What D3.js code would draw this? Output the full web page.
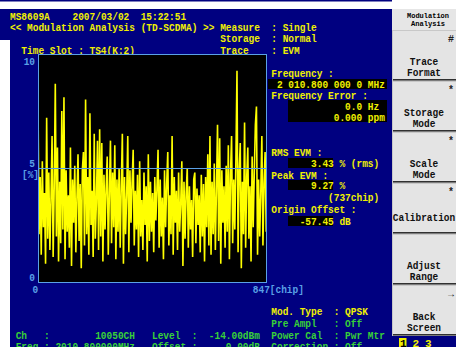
<!DOCTYPE html>
<html><head><meta charset="utf-8">
<script src="https://cdn.jsdelivr.net/npm/d3@7"></script>
<style>html,body{margin:0;padding:0;background:#fff;overflow:hidden}svg{display:block}text{white-space:pre}</style>
</head><body>
<script>
// ---- chart data ----
const chipStep = 4; // one stored EVM sample every 4 chips
const evmValues = [
7.9,2.1,4.6,1.2,5.3,2.4,3.9,0.8,7.2,1.9,
4.8,1.4,3.6,6.4,1.1,4.2,8.7,2.0,5.9,0.9,
4.4,1.7,7.5,2.3,8.1,1.0,4.9,2.2,3.8,1.5,
5.9,0.7,4.5,2.6,5.1,1.3,3.7,5.6,1.8,4.3,
0.6,4.9,5.7,1.6,8.0,2.1,4.6,1.2,7.4,2.5,
4.0,1.1,6.5,1.9,3.5,6.2,1.4,6.7,2.0,6.1,
0.9,4.7,2.3,4.1,5.5,1.2,3.9,6.2,1.7,4.8,
2.4,6.0,1.0,4.5,2.2,5.0,1.5,4.2,6.5,0.8,
4.6,2.1,3.8,6.4,1.3,4.9,2.6,4.3,5.8,1.6,
4.0,2.3,4.7,1.1,5.3,2.0,3.6,1.4,4.8,2.5,
4.2,0.9,5.6,1.8,4.4,2.2,3.9,1.3,4.6,2.7,
4.1,5.8,1.5,4.5,2.0,3.7,1.0,4.9,2.4,4.3,
5.7,1.6,3.8,2.1,6.4,1.2,4.6,2.6,4.0,1.4,
4.8,2.2,3.5,5.3,0.7,4.4,1.9,3.9,5.0,1.5,
4.2,2.3,3.6,1.1,4.5,4.8,1.7,4.1,2.5,3.8,
1.3,4.7,2.0,4.3,0.9,4.6,2.4,5.6,1.6,6.4,
1.2,4.4,2.1,5.2,1.4,4.0,6.9,1.8,6.3,0.8,
4.9,2.6,4.2,1.5,5.1,2.2,6.0,1.0,4.7,6.4,
1.7,4.5,2.3,5.4,9.27,1.3,4.8,6.1,0.6,4.4,
2.1,7.0,1.5,4.6,5.9,1.9,4.2,0.9,5.5,2.4,
4.8,6.9,7.7,1.2,4.5,2.0,3.9,6.4,1.6,4.3,
5.7,2.2
];
const xDomain = [0, 847];
const yDomain = [0, 10];
const yTickValues = [10, 5, 0];
const yUnit = "[%]";
const xTickLabels = ["0", "847[chip]"];
const refLineValue = 5;
const softKeys = [
  {mark:"#", lines:["Trace","Format"]},
  {mark:"*", lines:["Storage","Mode"]},
  {mark:"*", lines:["Scale","Mode"]},
  {mark:"*", lines:["Calibration"]},
  {mark:"",  lines:["Adjust","Range"]},
  {mark:"\u2192", lines:["Back","Screen"]}
];

// ---- layout ----
const W = 456, H = 347;
const NAVY = "#000080", YEL = "#F0F000", GRN = "#38D038", BLU = "#5AA0E6";
const CW = 5.68, X0 = 10;
const FONT = "'Liberation Mono','DejaVu Sans Mono',monospace";

const svg = d3.select("body").append("svg").attr("width", W).attr("height", H);
svg.append("rect").attr("width", W).attr("height", H).attr("fill", "#fff");
svg.append("rect").attr("x", 0).attr("y", 0).attr("width", 392).attr("height", 1.5).attr("fill", NAVY);
svg.append("rect").attr("x", 0).attr("y", 9).attr("width", 392).attr("height", H - 9).attr("fill", NAVY);
svg.append("rect").attr("x", 0).attr("y", 40).attr("width", 10).attr("height", H - 40).attr("fill", "#fff");

function txt(col, y, s, color, px) {
  const xx = px !== undefined ? px : X0 + col * CW;
  return svg.append("text").attr("x", xx).attr("y", y)
    .attr("fill", color).attr("font-family", FONT).attr("font-weight", "bold")
    .attr("font-size", 11).attr("textLength", s.length * CW)
    .attr("lengthAdjust", "spacingAndGlyphs").attr("xml:space", "preserve").text(s);
}

// header
txt(0, 19.5, "MS8609A    2007/03/02  15:22:51", YEL);
txt(0, 30.5, "<< Modulation Analysis (TD-SCDMA) >> Measure  : Single", YEL);
txt(37, 42, "Storage  : Normal", YEL);
txt(2, 53.5, "Time Slot : TS4(K:2)", YEL);
txt(37, 53.5, "Trace    : EVM", YEL);

// plot
const x = d3.scaleLinear().domain(xDomain).range([38, 267]);
const y = d3.scaleLinear().domain(yDomain).range([282, 54]);
svg.append("defs").append("clipPath").attr("id", "clip").append("rect")
  .attr("x", x(0)).attr("y", y(10)).attr("width", x(847) - x(0)).attr("height", y(0) - y(10));
svg.append("rect").attr("x", x(0)).attr("y", y(10)).attr("width", x(847) - x(0)).attr("height", y(0) - y(10)).attr("fill", "#000");
const line = d3.line().x((d, i) => x(i * chipStep)).y(d => y(d));
svg.append("path").datum(evmValues).attr("d", line).attr("fill", "none")
  .attr("stroke", "#FFFF00").attr("stroke-width", 1.6).attr("stroke-linejoin", "bevel").attr("clip-path", "url(#clip)");
svg.append("line").attr("x1", x(0)).attr("x2", x(847)).attr("y1", y(refLineValue) + 0.5).attr("y2", y(refLineValue) + 0.5)
  .attr("stroke", BLU).attr("stroke-width", 1);
svg.append("rect").attr("x", x(0) + 0.5).attr("y", y(10) + 0.5).attr("width", x(847) - x(0) - 1).attr("height", y(0) - y(10))
  .attr("fill", "none").attr("stroke", BLU).attr("stroke-width", 1);

// axis labels
yTickValues.forEach(v => {
  const s = String(v);
  txt(0, y(v) + (v === 10 ? 11 : -1), s, BLU, 35 - s.length * CW);
});
txt(0, y(refLineValue) + 10, yUnit, BLU, 22);
txt(0, 293, xTickLabels[0], BLU, x(0) - 5.5);
txt(0, 293, xTickLabels[1], BLU, x(847) - 2.5 * CW);

// right info panel
svg.append("rect").attr("x", 268).attr("y", 79).attr("width", 119).attr("height", 10).attr("fill", "#000");
svg.append("rect").attr("x", 288).attr("y", 100).attr("width", 99).attr("height", 22).attr("fill", "#000");
svg.append("rect").attr("x", 288).attr("y", 158).attr("width", 45).attr("height", 10).attr("fill", "#000");
svg.append("rect").attr("x", 288).attr("y", 180).attr("width", 45).attr("height", 10).attr("fill", "#000");
svg.append("rect").attr("x", 288).attr("y", 216).attr("width", 45).attr("height", 10).attr("fill", "#000");
txt(46, 77, "Frequency :", YEL);
txt(47, 88, "2 010.800 000 0 MHz", YEL);
txt(46, 99, "Frequency Error :", YEL);
txt(59, 110, "0.0 Hz", YEL);
txt(57, 121, "0.000 ppm", YEL);
txt(46, 156, "RMS EVM :", YEL);
txt(53, 167, "3.43", YEL);
txt(58, 167, "% (rms)", YEL);
txt(46, 179, "Peak EVM :", YEL);
txt(53, 189, "9.27", YEL);
txt(58, 189, "%", YEL);
txt(56, 201, "(737chip)", YEL);
txt(46, 213, "Origin Offset :", YEL);
txt(51, 225, "-57.45", YEL);
txt(58, 225, "dB", YEL);

// bottom status
txt(46, 315, "Mod. Type  : QPSK", YEL);
txt(46, 327, "Pre Ampl   : Off", GRN);
txt(1, 339, "Ch   :        10050CH   Level  :  -14.00dBm", GRN);
txt(46, 339, "Power Cal  : Pwr Mtr", GRN);
txt(1, 350, "Freq : 2010.800000MHz   Offset :     0.00dB", GRN);
txt(46, 350, "Correction : Off", GRN);

// soft key panel
svg.append("rect").attr("x", 392).attr("y", 9).attr("width", 64).attr("height", 327).attr("fill", "#C8C8C8");
svg.append("rect").attr("x", 392).attr("y", 9).attr("width", 64).attr("height", 21).attr("fill", "#E6E6E6");
svg.append("text").attr("x", 428).attr("y", 17.5).attr("text-anchor", "middle").attr("font-family", FONT)
  .attr("font-weight", "bold").attr("font-size", 8).attr("textLength", 42).attr("lengthAdjust", "spacingAndGlyphs").text("Modulation");
svg.append("text").attr("x", 428).attr("y", 26).attr("text-anchor", "middle").attr("font-family", FONT)
  .attr("font-weight", "bold").attr("font-size", 8).attr("textLength", 34).attr("lengthAdjust", "spacingAndGlyphs").text("Analysis");
const keyTop = 30, keyH = 51;
softKeys.forEach((k, i) => {
  const top = keyTop + i * keyH;
  svg.append("rect").attr("x", 393).attr("y", top + 1).attr("width", 63).attr("height", keyH - 3).attr("fill", "#E4E4E4");
  svg.append("rect").attr("x", 393).attr("y", top + keyH - 2).attr("width", 63).attr("height", 1.5).attr("fill", "#303030");
  if (k.mark) svg.append("text").attr("x", 454).attr("y", top + 12).attr("text-anchor", "end").attr("font-family", FONT)
      .attr("font-weight", "bold").attr("font-size", 10).attr("fill", "#202020").text(k.mark);
  const base = k.lines.length === 1 ? top + 38 : top + 34.5;
  k.lines.forEach((s, j) => {
    svg.append("text").attr("x", 424).attr("y", base + j * 11).attr("text-anchor", "middle")
      .attr("font-family", FONT).attr("font-weight", "bold").attr("font-size", 11.5).attr("fill", "#101010")
      .attr("textLength", s.length * CW).attr("lengthAdjust", "spacingAndGlyphs").text(s);
  });
});
svg.append("rect").attr("x", 392).attr("y", 336).attr("width", 64).attr("height", 11).attr("fill", NAVY);
svg.append("rect").attr("x", 399).attr("y", 338).attr("width", 7.5).attr("height", 9).attr("fill", YEL);
["1", "2", "3"].forEach((s, i) => {
  svg.append("text").attr("x", 400 + i * 12.5).attr("y", 347).attr("font-family", FONT).attr("font-weight", "bold")
    .attr("font-size", 11).attr("fill", i === 0 ? "#000" : YEL).text(s);
});
</script>
</body></html>
